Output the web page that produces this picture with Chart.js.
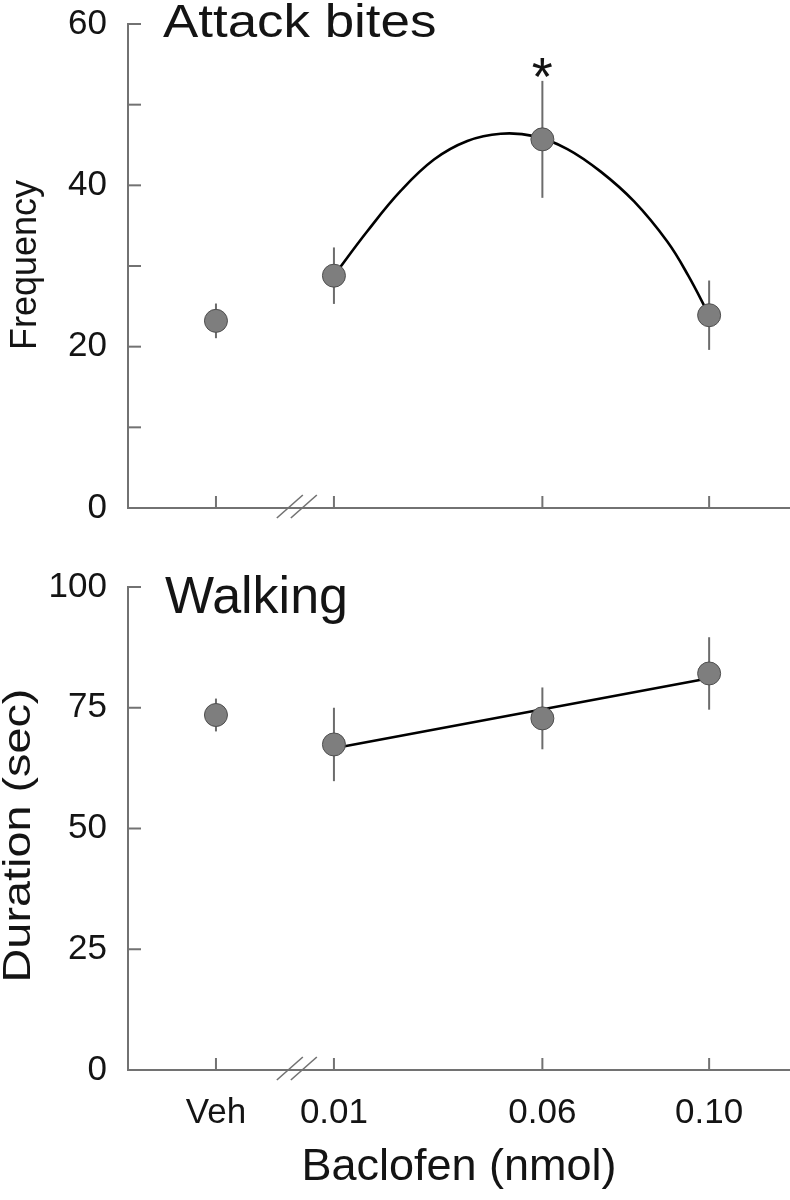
<!DOCTYPE html>
<html lang="en">
<head>
<meta charset="UTF-8">
<title>Baclofen: attack bites and walking</title>
<script src="https://cdn.jsdelivr.net/npm/chart.js@4.4.0/dist/chart.umd.min.js"></script>
<style>
html, body { margin: 0; padding: 0; background: #fff; }
#wrap { position: relative; width: 790px; height: 1200px; }
.panel { position: absolute; left: 0; width: 790px; }
#top { top: 0; height: 540px; }
#bottom { top: 540px; height: 660px; }
</style>
</head>
<body>
<div id="wrap">
  <div class="panel" id="top"><canvas id="bitesChart"></canvas></div>
  <div class="panel" id="bottom"><canvas id="walkChart"></canvas></div>
</div>
<script>
// x positions: Veh sits left of the axis break, doses on a linear nmol scale
const doseLabels = ['Veh', '0.01', '0.06', '0.10'];
const dosePos = [-0.0183, 0.01, 0.06, 0.10];
const breakPos = 0.0011;

// attack bites (frequency), mean and error
const biteMean = [23.2, 28.8, 45.7, 23.9];
const biteErr = [2.15, 3.5, 7.25, 4.3];
// fitted curve
const biteFitX = [0.010, 0.018, 0.026, 0.034, 0.042, 0.050, 0.058, 0.066, 0.074, 0.082, 0.090, 0.095, 0.100];
const biteFitY = [28.8, 34.3, 39.3, 43.2, 45.5, 46.4, 46.1, 44.5, 41.7, 38.0, 33.0, 28.8, 23.9];
const biteTicks = [0, 10, 20, 30, 40, 50, 60];
const biteTickLabels = ['0', '', '20', '', '40', '', '60'];

// walking (duration, sec)
const walkMean = [73.5, 67.4, 72.8, 82.1];
const walkErr = [3.4, 7.6, 6.4, 7.5];
const walkFitX = [0.01, 0.10];
const walkFitY = [66.6, 81.1];
const walkTicks = [0, 25, 50, 75, 100];
const walkTickLabels = ['0', '25', '50', '75', '100'];

const FONT = "'Liberation Sans', Arial, Helvetica, sans-serif";
const AXIS = '#727272';
const INK = '#141414';
const X_MIN = -0.0394, X_MAX = 0.1194;

function line(ctx, x1, y1, x2, y2) {
    ctx.beginPath();
    ctx.moveTo(x1, y1);
    ctx.lineTo(x2, y2);
    ctx.stroke();
}

function stretchedText(ctx, text, x, y, size, stretch, rotate) {
    ctx.save();
    ctx.translate(x, y);
    if (rotate) ctx.rotate(-Math.PI / 2);
    ctx.scale(stretch, 1);
    ctx.font = size + 'px ' + FONT;
    ctx.fillStyle = INK;
    ctx.textAlign = rotate ? 'center' : 'left';
    ctx.textBaseline = 'alphabetic';
    ctx.fillText(text, 0, 0);
    ctx.restore();
}

// error bars, inward ticks, axis break, star and titles
const decor = {
    id: 'decor',
    beforeDatasetsDraw(chart, args, opts) {
        const {ctx, scales: {x, y}} = chart;
        ctx.save();
        ctx.strokeStyle = '#6c6c6c';
        ctx.lineWidth = 2;
        opts.mean.forEach((m, i) => {
            const px = x.getPixelForValue(dosePos[i]);
            line(ctx, px, y.getPixelForValue(m - opts.err[i]), px, y.getPixelForValue(m + opts.err[i]));
        });
        ctx.restore();
    },
    afterDraw(chart, args, opts) {
        const {ctx, chartArea: ca, scales: {x, y}} = chart;
        ctx.save();
        ctx.strokeStyle = AXIS;
        ctx.lineWidth = 2;
        y.ticks.forEach(t => {
            const py = y.getPixelForValue(t.value);
            line(ctx, ca.left, py, ca.left + 13, py);
        });
        x.ticks.forEach(t => {
            const px = x.getPixelForValue(t.value);
            line(ctx, px, ca.bottom, px, ca.bottom - 12);
        });
        // axis break: two slashes
        const bx = x.getPixelForValue(breakPos);
        ctx.lineWidth = 1.6;
        [-7, 7].forEach(d => line(ctx, bx + d - 13, ca.bottom + 10, bx + d + 13, ca.bottom - 13));
        ctx.restore();

        if (opts.star !== undefined) {
            const i = opts.star;
            const px = x.getPixelForValue(dosePos[i]);
            const py = y.getPixelForValue(opts.mean[i] + opts.err[i]);
            ctx.save();
            ctx.font = '54px ' + FONT;
            ctx.fillStyle = INK;
            ctx.textAlign = 'center';
            ctx.textBaseline = 'alphabetic';
            ctx.fillText('*', px, py + 14);
            ctx.restore();
        }
        const t = opts.title;
        stretchedText(ctx, t.text, t.x, t.y, t.size, t.stretch, false);
        const yt = opts.yTitle;
        stretchedText(ctx, yt.text, yt.x, (ca.top + ca.bottom) / 2 + yt.shift, yt.size, yt.stretch, true);
    }
};

function buildChart(id, o) {
    return new Chart(document.getElementById(id), {
        type: 'line',
        data: {
            datasets: [
                {
                    data: o.mean.map((m, i) => ({x: dosePos[i], y: m})),
                    showLine: false,
                    pointRadius: 11.5,
                    pointBackgroundColor: '#7e7e7e',
                    pointBorderColor: '#4e4e4e',
                    pointBorderWidth: 1
                },
                {
                    data: o.fitX.map((v, i) => ({x: v, y: o.fitY[i]})),
                    borderColor: '#000',
                    borderWidth: 2.6,
                    pointRadius: 0,
                    tension: 0.4,
                    fill: false
                }
            ]
        },
        options: {
            responsive: true,
            maintainAspectRatio: false,
            animation: false,
            layout: {autoPadding: false, padding: {top: o.padTop, left: 0, right: 0, bottom: 0}},
            plugins: {
                legend: {display: false},
                tooltip: {enabled: false},
                decor: {mean: o.mean, err: o.err, star: o.star, title: o.title, yTitle: o.yTitle}
            },
            scales: {
                x: {
                    type: 'linear',
                    min: X_MIN,
                    max: X_MAX,
                    grid: {display: false, drawTicks: false},
                    border: {color: AXIS, width: 2},
                    afterBuildTicks: s => { s.ticks = dosePos.map(v => ({value: v})); },
                    afterFit: s => { s.height = o.xHeight; s.paddingLeft = 0; s.paddingRight = 0; },
                    ticks: {
                        display: o.showX,
                        autoSkip: false,
                        maxRotation: 0,
                        padding: 22,
                        color: INK,
                        font: {family: FONT, size: 35},
                        callback: v => doseLabels[dosePos.indexOf(v)]
                    },
                    title: {
                        display: o.showX,
                        text: 'Baclofen (nmol)',
                        color: INK,
                        font: {family: FONT, size: 45},
                        padding: {top: 0, bottom: 5}
                    }
                },
                y: {
                    min: o.ticks[0],
                    max: o.ticks[o.ticks.length - 1],
                    grid: {display: false, drawTicks: false},
                    border: {color: AXIS, width: 2},
                    afterBuildTicks: s => { s.ticks = o.ticks.map(v => ({value: v})); },
                    // fixed axis width; labels may overhang the plot edges
                    afterFit: s => { s.width = 128; s.paddingTop = 0; s.paddingBottom = 0; },
                    ticks: {
                        padding: 21,
                        color: INK,
                        font: {family: FONT, size: 35},
                        callback: v => o.tickLabels[o.ticks.indexOf(v)]
                    }
                }
            }
        },
        plugins: [decor]
    });
}

buildChart('bitesChart', {
    mean: biteMean, err: biteErr, fitX: biteFitX, fitY: biteFitY,
    ticks: biteTicks, tickLabels: biteTickLabels,
    padTop: 24, xHeight: 32, showX: false, star: 2,
    title: {text: 'Attack bites', x: 163, y: 37, size: 46, stretch: 1.15},
    yTitle: {text: 'Frequency', x: 36, shift: -1, size: 36, stretch: 1}
});

buildChart('walkChart', {
    mean: walkMean, err: walkErr, fitX: walkFitX, fitY: walkFitY,
    ticks: walkTicks, tickLabels: walkTickLabels,
    padTop: 47, xHeight: 130, showX: true,
    title: {text: 'Walking', x: 165, y: 73, size: 52, stretch: 1},
    yTitle: {text: 'Duration (sec)', x: 30, shift: 7, size: 39, stretch: 1.2}
});
</script>
</body>
</html>
